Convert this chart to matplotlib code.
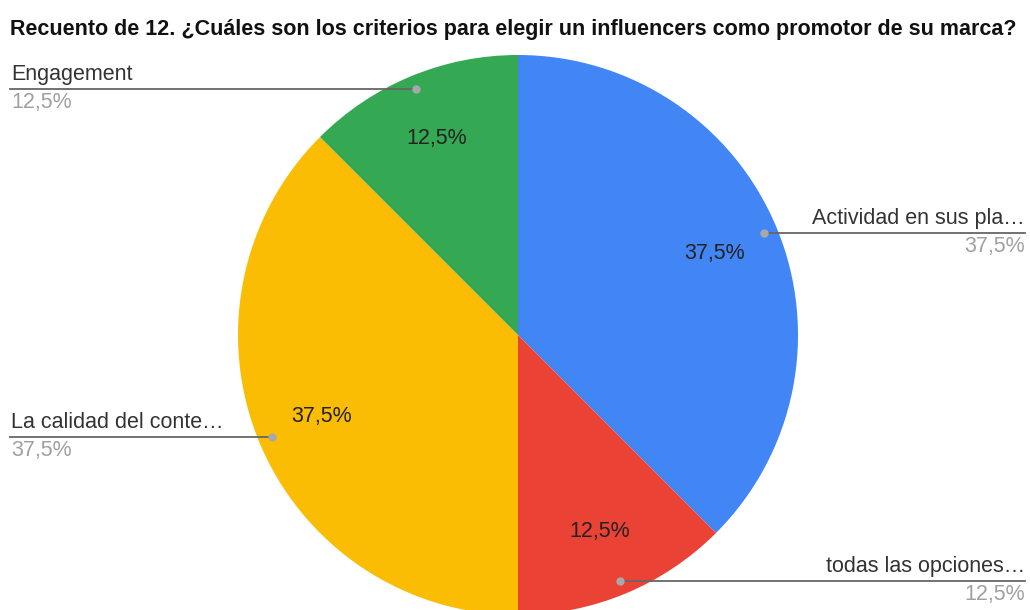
import numpy as np
import matplotlib
matplotlib.use("Agg")
import matplotlib.pyplot as plt
from matplotlib.transforms import blended_transform_factory

plt.rcParams['font.family'] = ['Liberation Sans', 'DejaVu Sans']

title = "Recuento de 12. ¿Cuáles son los criterios para elegir un influencers como promotor de su marca?"
labels = ["Actividad en sus pla…", "todas las opciones…", "La calidad del conte…", "Engagement"]
counts = [3, 1, 3, 1]
colors = ["#4285F4", "#EA4335", "#FBBC04", "#34A853"]

W, H = 1030, 610
fig = plt.figure(figsize=(W / 100, H / 100), dpi=100)
fig.patch.set_facecolor("white")

# pie occupies a 560 px square whose centre sits at (518, 335) from the top-left
cx, cy, R = 518, 335, 280
ax = fig.add_axes([(cx - R) / W, (H - cy - R) / H, 2 * R / W, 2 * R / H])
ax.axis("off")

def pct_fmt(p):
    return f"{p:.1f}".replace(".", ",") + "%"

FS = 15.5
wedges, texts, autotexts = ax.pie(
    counts, colors=colors, startangle=90, counterclock=False, radius=1,
    autopct=pct_fmt, pctdistance=0.76,
    wedgeprops=dict(linewidth=0), textprops=dict(fontsize=FS, color="#222222"),
)
ax.set_xlim(-1, 1)
ax.set_ylim(-1, 1)
ax.set_aspect("equal")
for w in wedges:
    w.set_clip_on(False)

fig.text(10 / W, 1 - 29 / H, title, fontsize=15.5, fontweight="bold",
         ha="left", va="center", color="#111111")

tr = blended_transform_factory(fig.transFigure, ax.transData)
total = sum(counts)
for w, lab, c in zip(wedges, labels, counts):
    mid = np.deg2rad((w.theta1 + w.theta2) / 2)
    dx, dy = 0.95 * np.cos(mid), 0.95 * np.sin(mid)
    pct = pct_fmt(100 * c / total)
    ax.plot([dx], [dy], "o", ms=5, color="#a8a8a8", clip_on=False, zorder=5)
    dot_fig = fig.transFigure.inverted().transform(ax.transData.transform((dx, dy)))[0]
    if dx < 0:
        xe, ha = 10 / W, "left"
        xt = 11 / W
    else:
        xe, ha = 1025 / W, "right"
        xt = 1025 / W
    ax.plot([xe, dot_fig], [dy, dy], color="#666666", lw=1.3, transform=tr,
            clip_on=False, zorder=4)
    ax.annotate(lab, xy=(xt, dy), xycoords=tr, xytext=(0, 3), textcoords="offset points",
                ha=ha, va="bottom", fontsize=FS, color="#333333", annotation_clip=False)
    ax.annotate(pct, xy=(xt, dy), xycoords=tr, xytext=(0, -2), textcoords="offset points",
                ha=ha, va="top", fontsize=FS, color="#a0a0a0", annotation_clip=False)

fig.savefig("out.png", dpi=100, facecolor="white")
